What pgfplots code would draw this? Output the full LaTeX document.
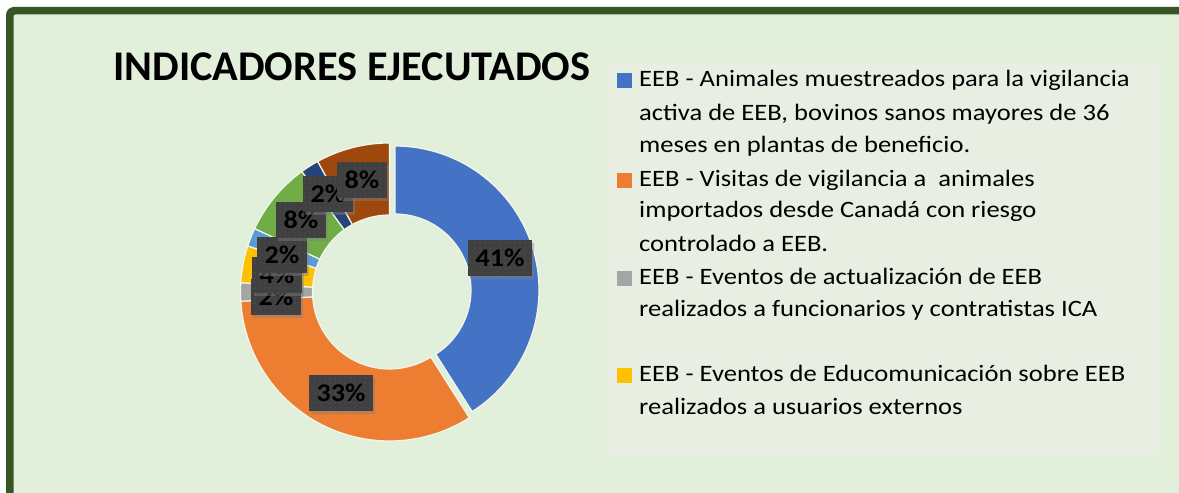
\documentclass[border=0pt]{standalone}
\usepackage{fontspec}
\setmainfont{Carlito}
\newfontfamily\legfont{Carlito}[FakeStretch=1.13]
\newfontfamily\labfont{Carlito}[FakeStretch=1.1]
\usepackage{pgfplots}
\pgfplotsset{compat=1.18}
\usetikzlibrary{patterns.meta,shadows}
\definecolor{frame}{HTML}{375623}
\definecolor{bg}{HTML}{E2EFDA}
\definecolor{legbg}{HTML}{E8EFE2}
\definecolor{lbl}{HTML}{404040}
\definecolor{dotc}{HTML}{5E5E5E}
\definecolor{c1}{HTML}{4472C4}
\definecolor{c2}{HTML}{ED7D31}
\definecolor{c3}{HTML}{A5A5A5}
\definecolor{c4}{HTML}{FFC000}
\definecolor{c5}{HTML}{5B9BD5}
\definecolor{c6}{HTML}{70AD47}
\definecolor{c7}{HTML}{264478}
\definecolor{c8}{HTML}{9E480E}
% #1 cumulative start (percent), #2 value (percent), #3 colour, #4 cx, #5 cy, #6 outer r, #7 inner r
\newcommand{\slice}[7]{%
  \addplot[fill=#3, draw=white!55!bg, line width=1.2pt, line join=round, variable=\t,
    samples at={0,...,50,50.001,51,52,...,100,100.001}]
  ({#4 + (((\t<50.0005) || (\t>100.0005)) ? #6 : #7)*cos(((\t<50.0005) ? (90-3.6*#1-3.6*#2*\t/50) : (90-3.6*#1-3.6*#2*(100-\t)/50)))},
   {#5 + (((\t<50.0005) || (\t>100.0005)) ? #6 : #7)*sin(((\t<50.0005) ? (90-3.6*#1-3.6*#2*\t/50) : (90-3.6*#1-3.6*#2*(100-\t)/50)))});
}
\tikzset{lab/.style={fill=lbl, postaction={pattern={Dots[distance=5pt,radius=0.7pt]}, pattern color=dotc},
  drop shadow={shadow xshift=2pt, shadow yshift=-3pt, opacity=0.45},
  inner sep=0pt, minimum height=36pt, text=black, font=\labfont\fontsize{25.5}{28}\selectfont\bfseries}}
\begin{document}
\begin{tikzpicture}[x=1pt,y=1pt]
\clip (0,0) rectangle (1179,493);
\fill[white] (0,0) rectangle (1179,493);
\fill[frame, rounded corners=8pt] (6,-80) rectangle (1260,486);
\fill[bg, rounded corners=2pt] (13.5,-80) rectangle (1260,478.5);
\fill[legbg] (607,36) rectangle (1159,430);
\node[anchor=base west, inner sep=0pt, font=\fontsize{42.3}{48}\selectfont\bfseries] at (113,412) {INDICADORES EJECUTADOS};
\begin{axis}[at={(0,0)}, anchor=south west, scale only axis, width=1179pt, height=493pt,
  xmin=0, xmax=1179, ymin=0, ymax=493, hide axis, clip=false]
\slice{0}{41}{c1}{395}{203}{144}{76}
\slice{41}{33}{c2}{389.5}{201}{149}{77}
\slice{74}{2}{c3}{389.5}{201}{149}{77}
\slice{76}{4}{c4}{389.5}{201}{149}{77}
\slice{80}{2}{c5}{389.5}{201}{149}{77}
\slice{82}{8}{c6}{389.5}{201}{149}{77}
\slice{90}{2}{c7}{389.5}{201}{149}{77}
\slice{92}{8}{c8}{389.5}{201}{149}{77}
\end{axis}
% data labels
\node[lab, minimum width=64pt] at (500,235) {41\%};
\node[lab, minimum width=64pt] at (341,100) {33\%};
\node[lab, minimum width=50pt] at (276,196) {2\%};
\node[lab, minimum width=50pt] at (277,218) {4\%};
\node[lab, minimum width=50pt] at (282,238) {2\%};
\node[lab, minimum width=50pt] at (301,273) {8\%};
\node[lab, minimum width=50pt] at (328,299) {2\%};
\node[lab, minimum width=50pt] at (362,313) {8\%};
% legend
\fill[c1] (617,405) rectangle (632,420);
\fill[c2] (617,305) rectangle (632,320);
\fill[c3] (617,207) rectangle (632,222);
\fill[c4] (617,110) rectangle (632,125);
\begin{scope}[every node/.style={anchor=base west, inner sep=0pt, font=\legfont\fontsize{23.5}{28}\selectfont}]
\node at (639,406) {EEB - Animales muestreados para la vigilancia};
\node at (639,372) {activa de EEB, bovinos sanos mayores de 36};
\node at (639,340) {meses en plantas de beneficio.};
\node at (639,306) {EEB - Visitas de vigilancia a~~animales};
\node at (639,275) {importados desde Canadá con riesgo};
\node at (639,241) {controlado a EEB.};
\node at (639,208) {EEB - Eventos de actualización de EEB};
\node at (639,176) {realizados a funcionarios y contratistas ICA};
\node at (639,111) {EEB - Eventos de Educomunicación sobre EEB};
\node at (639,78) {realizados a usuarios externos};
\end{scope}
\end{tikzpicture}
\end{document}
